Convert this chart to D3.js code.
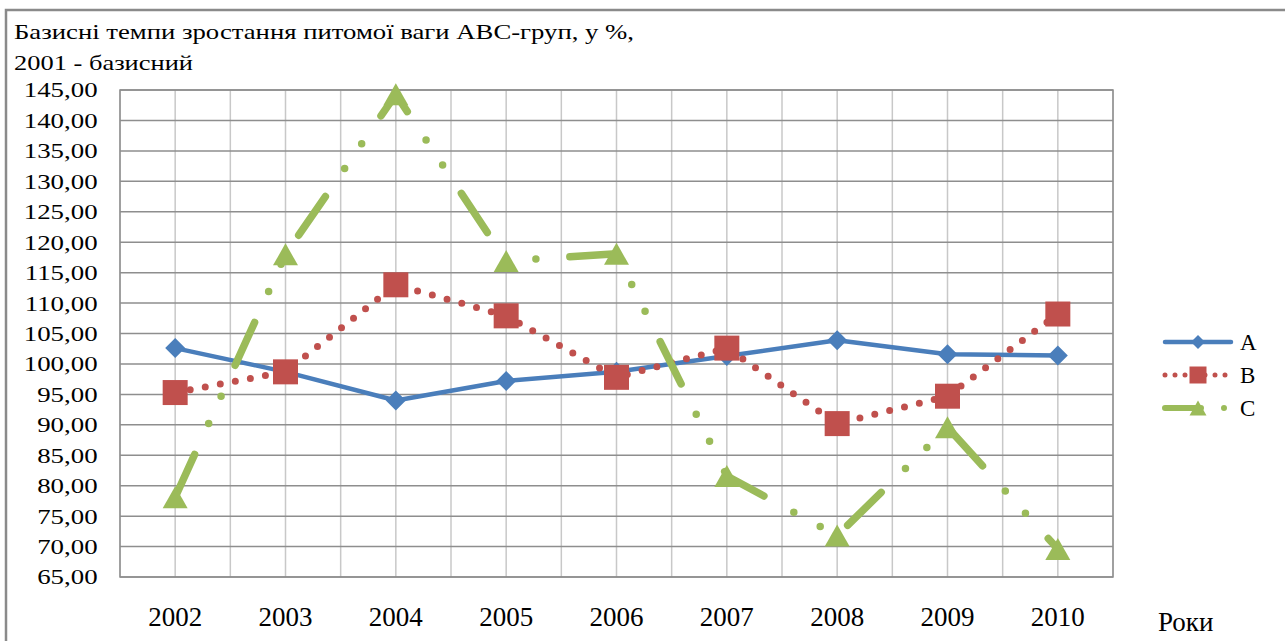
<!DOCTYPE html>
<html>
<head>
<meta charset="utf-8">
<script src="https://cdn.jsdelivr.net/npm/d3@7"></script>
<style>
  body { margin: 0; background: #fff; }
  svg { display: block; }
  svg text { font-family: 'Liberation Serif', 'DejaVu Serif', serif; fill: #000; }
</style>
</head>
<body>
<div class="canvas"></div>
<script>
const years = ['2002', '2003', '2004', '2005', '2006', '2007', '2008', '2009', '2010']
const seriesA = [102.6, 98.7, 94.0, 97.2, 98.7, 101.3, 103.9, 101.6, 101.4]
const seriesB = [95.3, 98.7, 113.0, 107.9, 97.8, 102.6, 90.2, 94.7, 108.2]
const seriesC = [78.1, 118.0, 144.3, 116.9, 118.1, 81.6, 71.8, 89.6, 69.6]
const yTicks = [65, 70, 75, 80, 85, 90, 95, 100, 105, 110, 115, 120, 125, 130, 135, 140, 145]
const yTickLabels = ['65,00', '70,00', '75,00', '80,00', '85,00', '90,00', '95,00', '100,00', '105,00',
    '110,00', '115,00', '120,00', '125,00', '130,00', '135,00', '140,00', '145,00']
const seriesNames = ['A', 'B', 'C']
const titleLines = ['Базисні темпи зростання питомої ваги АВС-груп, у %,', '2001 - базисний']
const xTitle = 'Роки'

const width = 1285, height = 641
const margin = { top: 90, right: 172, bottom: 64, left: 120 }
const graphWidth = width - margin.left - margin.right
const graphHeight = height - margin.top - margin.bottom
const serif = "'Liberation Serif', 'DejaVu Serif', serif"

const svg = d3.select('.canvas')
    .append('svg')
    .attr('width', width)
    .attr('height', height)

// outer chart frame (cut by the picture edges)
svg.append('rect')
    .attr('x', 6).attr('y', 10)
    .attr('width', width + 20).attr('height', height + 20)
    .attr('fill', 'none').attr('stroke', '#8a8a8a').attr('stroke-width', 2.5)

titleLines.forEach((t, i) => {
    svg.append('text')
        .attr('x', 14).attr('y', 39 + i * 31)
        .attr('font-family', serif)
        .attr('font-size', 22)
        .attr('textLength', i === 0 ? 620 : 179)
        .attr('lengthAdjust', 'spacingAndGlyphs')
        .text(t)
})

const graph = svg.append('g')
    .attr('transform', `translate(${margin.left}, ${margin.top})`)

const xScale = d3.scaleBand().domain(years).range([0, graphWidth])
const yScale = d3.scaleLinear().domain([65, 145]).range([graphHeight, 0])
const xc = d => xScale(d) + xScale.bandwidth() / 2

// vertical grid: at category edges and centres
const half = d3.range(0, years.length * 2 + 1)
graph.append('g').selectAll('line')
    .data(half)
    .enter().append('line')
        .attr('x1', d => d * xScale.step() / 2)
        .attr('x2', d => d * xScale.step() / 2)
        .attr('y1', 0).attr('y2', graphHeight)
        .attr('stroke', '#c8c8c8').attr('stroke-width', 1.5)

graph.append('g').selectAll('line')
    .data(yTicks)
    .enter().append('line')
        .attr('x1', 0).attr('x2', graphWidth)
        .attr('y1', d => yScale(d)).attr('y2', d => yScale(d))
        .attr('stroke', '#8e8e8e').attr('stroke-width', 1.5)

graph.append('rect')
    .attr('width', graphWidth).attr('height', graphHeight)
    .attr('fill', 'none').attr('stroke', '#8e8e8e').attr('stroke-width', 1.5)

// y axis labels
const yAxis = d3.axisLeft(yScale).tickValues(yTicks).tickSize(0)
    .tickFormat((d, i) => yTickLabels[i])
const yAxisGroup = graph.append('g').call(yAxis)
    .attr('font-family', serif)
yAxisGroup.select('.domain').remove()
yAxisGroup.selectAll('text')
    .attr('x', -17.5).attr('dy', '0.33em')
    .attr('transform', 'scale(1.28,1)')
    .attr('font-size', 21).attr('font-family', serif).attr('fill', '#000')

// x axis labels
const xAxis = d3.axisBottom(xScale).tickSize(0)
const xAxisGroup = graph.append('g').attr('transform', `translate(0, ${graphHeight})`).call(xAxis)
    .attr('font-family', serif)
xAxisGroup.select('.domain').remove()
xAxisGroup.selectAll('text')
    .attr('y', 49).attr('dy', 0)
    .attr('font-size', 27).attr('font-family', serif).attr('fill', '#000')

svg.append('text')
    .attr('x', 1158).attr('y', 631)
    .attr('font-family', serif)
    .attr('font-size', 27)
    .text(xTitle)

// markers
const diamond = s => `M0,${-s}L${s},0L0,${s}L${-s},0Z`
const square = s => `M${-s},${-s}H${s}V${s}H${-s}Z`
const triangle = (w, h) => `M0,${-h / 2}L${w / 2},${h / 2}L${-w / 2},${h / 2}Z`

const styles = [
    { color: '#4a7ebb', width: 4.5, dash: null, cap: 'round', marker: diamond(10), lmarker: diamond(7),
      ldash: null },
    { color: '#c0504d', width: 7, dash: '0 15.3', cap: 'round', marker: square(12.5), lmarker: square(8.5),
      ldash: '0 10' },
    { color: '#9bbb59', width: 7.5, dash: '47 34 0 30 0 34', cap: 'round', marker: triangle(25, 22),
      lmarker: triangle(17, 15), ldash: '36 23 0 40' }
]
const allSeries = [seriesA, seriesB, seriesC]

const lineGenerator = d3.line()
    .x((d, i) => xc(years[i]))
    .y(d => yScale(d))

allSeries.forEach((data, k) => {
    const st = styles[k]
    graph.append('path')
        .datum(data)
        .attr('fill', 'none')
        .attr('stroke', st.color)
        .attr('stroke-width', st.width)
        .attr('stroke-linecap', st.cap)
        .attr('stroke-linejoin', 'round')
        .attr('stroke-dasharray', st.dash)
        .attr('d', lineGenerator)

    graph.append('g').selectAll('path')
        .data(data)
        .enter().append('path')
            .attr('d', st.marker)
            .attr('transform', (d, i) => `translate(${xc(years[i])}, ${yScale(d)})`)
            .attr('fill', st.color)
})

// legend
const legend = svg.append('g')
const legendY = [342, 375, 408]
seriesNames.forEach((name, k) => {
    const st = styles[k]
    legend.append('line')
        .attr('x1', 1165).attr('x2', 1231)
        .attr('y1', legendY[k]).attr('y2', legendY[k])
        .attr('stroke', st.color)
        .attr('stroke-width', k === 0 ? 4.5 : k === 1 ? 5 : 6)
        .attr('stroke-linecap', 'round')
        .attr('stroke-dasharray', st.ldash)
    legend.append('path')
        .attr('d', st.lmarker)
        .attr('transform', `translate(1198, ${legendY[k]})`)
        .attr('fill', st.color)
    legend.append('text')
        .attr('x', 1240).attr('y', legendY[k] + 8)
        .attr('font-family', serif)
        .attr('font-size', 23)
        .text(name)
})
</script>
</body>
</html>
